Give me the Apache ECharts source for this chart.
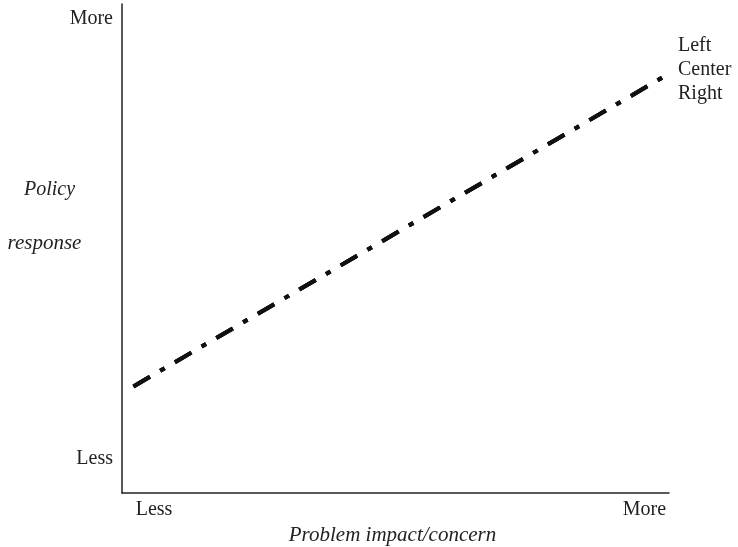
<!DOCTYPE html>
<html>
<head>
<meta charset="utf-8">
<script src="https://cdn.jsdelivr.net/npm/echarts@6/dist/echarts.min.js"></script>
<style>html,body{margin:0;padding:0;background:#fff}#c{width:738px;height:547px}</style>
</head>
<body>
<div id="c"></div>
<script>
// Data
const xValues = [0.021, 0.996];
const leftValues = [0.218, 0.855];
const centerValues = [0.218, 0.855];
const rightValues = [0.218, 0.855];
const seriesNames = ['Left', 'Center', 'Right'];
const xTickPositions = [0.0585, 0.955];
const xTickLabels = ['Less', 'More'];
const yTickPositions = [0.0695, 0.970];
const yTickLabels = ['Less', 'More'];
const xAxisTitle = 'Problem impact/concern';
const yAxisTitleLines = ['Policy', 'response'];

const FONT = '"Liberation Serif", "Times New Roman", serif';
const INK = '#222';
const chart = echarts.init(document.getElementById('c'), null, {renderer: 'canvas'});

function mk(name, vals) {
  return {
    name: name, type: 'line', symbol: 'none', animation: false,
    data: xValues.map((x, i) => [x, vals[i]]),
    lineStyle: {color: '#111', width: 4, type: [19, 12, 5, 12], cap: 'butt'},
    itemStyle: {color: '#111'}
  };
}

chart.setOption({
  animation: false,
  backgroundColor: '#fff',
  grid: {left: 122, right: 69, top: 4, bottom: 54, outerBoundsMode: 'none'},
  legend: {
    orient: 'vertical', left: 668, top: 31, itemGap: 4,
    itemWidth: 0, itemHeight: 0, icon: 'rect', selectedMode: false,
    textStyle: {fontFamily: FONT, fontSize: 20, color: INK},
    data: seriesNames
  },
  xAxis: {
    type: 'value', min: 0, max: 1,
    axisLine: {show: true, onZero: false, lineStyle: {color: INK, width: 1.5}},
    axisTick: {show: false},
    splitLine: {show: false},
    axisLabel: {
      customValues: xTickPositions, margin: 7,
      fontFamily: FONT, fontSize: 20, color: INK,
      formatter: v => xTickLabels[v < 0.5 ? 0 : 1]
    },
    name: xAxisTitle, nameLocation: 'middle', nameGap: 30,
    nameTextStyle: {fontFamily: FONT, fontSize: 21, fontStyle: 'italic', color: INK, padding: [0, 6, 0, 0]}
  },
  yAxis: {
    type: 'value', min: 0, max: 1,
    axisLine: {show: true, onZero: false, lineStyle: {color: INK, width: 1.5}},
    axisTick: {show: false},
    splitLine: {show: false},
    axisLabel: {
      customValues: yTickPositions, margin: 9,
      fontFamily: FONT, fontSize: 20, color: INK,
      formatter: v => yTickLabels[v < 0.5 ? 0 : 1]
    }
  },
  graphic: [
    {type: 'text', x: 49.5, y: 190, style: {text: yAxisTitleLines[0], font: 'italic 20px ' + FONT, fill: INK, align: 'center', verticalAlign: 'middle'}},
    {type: 'text', x: 44.5, y: 243, style: {text: yAxisTitleLines[1], font: 'italic 21px ' + FONT, fill: INK, align: 'center', verticalAlign: 'middle'}}
  ],
  series: [mk(seriesNames[0], leftValues), mk(seriesNames[1], centerValues), mk(seriesNames[2], rightValues)]
});
</script>
</body>
</html>
